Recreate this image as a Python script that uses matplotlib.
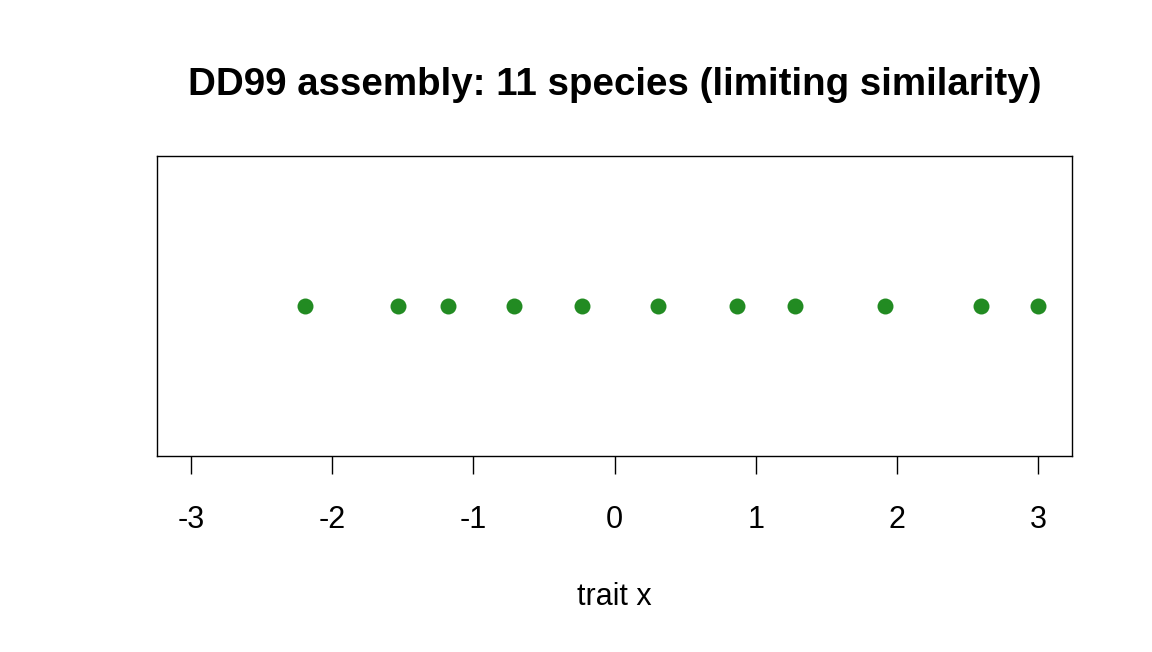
import matplotlib
matplotlib.use("Agg")
import matplotlib.pyplot as plt

# species trait values
traits = [-2.19, -1.53, -1.18, -0.71, -0.23, 0.31, 0.865, 1.277, 1.915, 2.596, 3.0]
tick_vals = [-3, -2, -1, 0, 1, 2, 3]

plt.rcParams['font.family'] = ['Liberation Sans', 'DejaVu Sans']

fig = plt.figure(figsize=(11.52, 6.52), dpi=100)
ax = fig.add_axes([157 / 1152, 1 - 456 / 652, (1072 - 157) / 1152, 300 / 652])

ax.plot(traits, [0] * len(traits), 'o', color='#228B22', markersize=11.5, markeredgewidth=0)
ax.set_xlim(-3.24, 3.24)
ax.set_ylim(-1, 1)
ax.set_yticks([])
ax.set_xticks(tick_vals)
ax.set_xticklabels([str(v) for v in tick_vals])
ax.tick_params(axis='x', direction='out', length=13, width=1, labelsize=22, pad=22)
for s in ax.spines.values():
    s.set_linewidth(1)

ax.set_xlabel('trait x', fontsize=22, labelpad=34)
ax.set_title('DD99 assembly: 11 species (limiting similarity)', fontsize=27.7,
             fontweight='bold', pad=44)

fig.savefig('out.png', dpi=100)
